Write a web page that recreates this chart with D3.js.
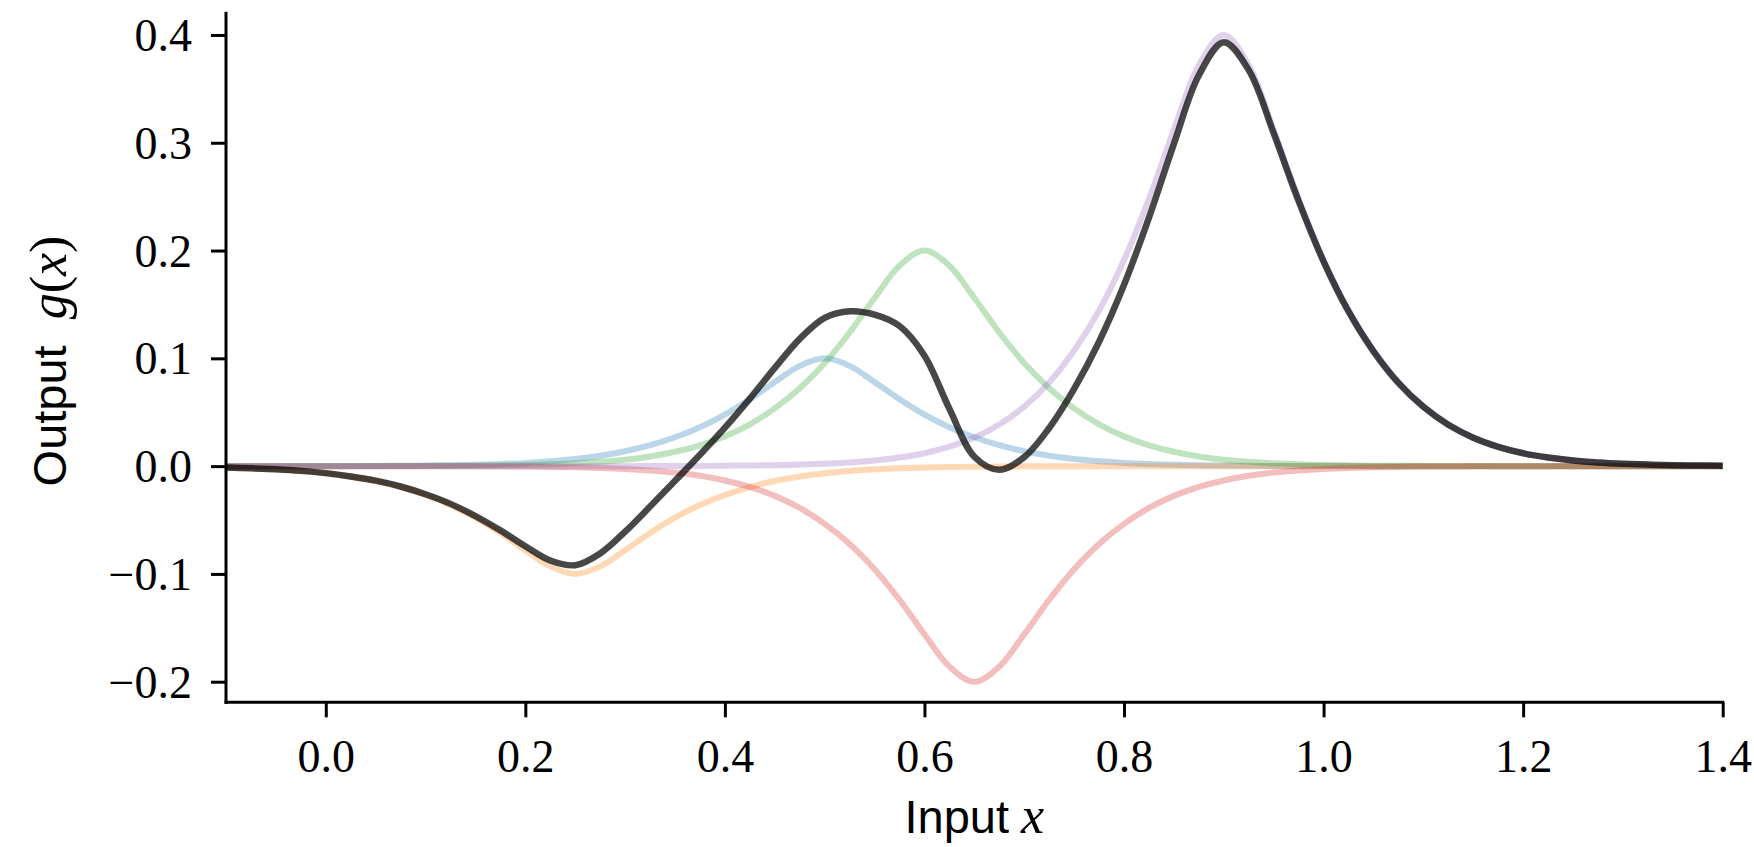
<!DOCTYPE html>
<html>
<head>
<meta charset="utf-8">
<script src="https://cdn.jsdelivr.net/npm/d3@7"></script>
<style>
  html, body { margin: 0; padding: 0; background: #ffffff; }
  svg { display: block; }
</style>
</head>
<body>
<svg id="chart" width="1754" height="847"></svg>
<script>
// ---- data ----
const xs = [-0.1,-0.075,-0.05,-0.025,0,0.025,0.05,0.075,0.1,0.125,0.15,0.175,0.2,0.225,0.25,0.275,0.3,0.325,0.35,0.375,0.4,0.425,0.45,0.475,0.5,0.525,0.55,0.575,0.6,0.625,0.65,0.675,0.7,0.725,0.75,0.775,0.8,0.825,0.85,0.875,0.9,0.925,0.95,0.975,1.0,1.025,1.05,1.075,1.1,1.125,1.15,1.175,1.2,1.225,1.25,1.275,1.3,1.325,1.35,1.375,1.4];

const blueVals = [0,0,0,0.0001,0.0001,0.0001,0.0002,0.0004,0.0006,0.0009,0.0013,0.002,0.003,0.0045,0.0066,0.0097,0.0138,0.0194,0.0268,0.0361,0.0478,0.062,0.078,0.093,0.1,0.093,0.078,0.062,0.0478,0.0361,0.0268,0.0194,0.0138,0.0097,0.0066,0.0045,0.003,0.002,0.0013,0.0009,0.0006,0.0004,0.0002,0.0001,0.0001,0.0001,0,0,0,0,0,0,0,0,0,0,0,0,0,0,0];

const orangeVals = [-0.0013,-0.002,-0.003,-0.0045,-0.0066,-0.0097,-0.0138,-0.0194,-0.0268,-0.0361,-0.0478,-0.062,-0.078,-0.093,-0.1,-0.093,-0.078,-0.062,-0.0478,-0.0361,-0.0268,-0.0194,-0.0138,-0.0097,-0.0066,-0.0045,-0.003,-0.002,-0.0013,-0.0009,-0.0006,-0.0004,-0.0002,-0.0001,-0.0001,-0.0001,0,0,0,0,0,0,0,0,0,0,0,0,0,0,0,0,0,0,0,0,0,0,0,0,0];

const greenVals = [0,0,0,0,0,0,0.0001,0.0001,0.0002,0.0003,0.0004,0.0007,0.0011,0.0017,0.0026,0.004,0.006,0.009,0.0133,0.0193,0.0276,0.0388,0.0536,0.0722,0.0956,0.124,0.156,0.186,0.2,0.186,0.156,0.124,0.0956,0.0722,0.0536,0.0388,0.0276,0.0193,0.0133,0.009,0.006,0.004,0.0026,0.0017,0.0011,0.0007,0.0004,0.0003,0.0002,0.0001,0.0001,0,0,0,0,0,0,0,0,0,0];

const redVals = [0,0,0,0,0,0,0,0,-0.0001,-0.0001,-0.0002,-0.0003,-0.0004,-0.0007,-0.0011,-0.0017,-0.0026,-0.004,-0.006,-0.009,-0.0133,-0.0193,-0.0276,-0.0388,-0.0536,-0.0722,-0.0956,-0.124,-0.156,-0.186,-0.2,-0.186,-0.156,-0.124,-0.0956,-0.0722,-0.0536,-0.0388,-0.0276,-0.0193,-0.0133,-0.009,-0.006,-0.004,-0.0026,-0.0017,-0.0011,-0.0007,-0.0004,-0.0003,-0.0002,-0.0001,-0.0001,0,0,0,0,0,0,0,0];

const purpleVals = [0,0,0,0,0,0,0,0,0,0,0,0,0,0,0,0,0,0.0001,0.0001,0.0002,0.0004,0.0006,0.0009,0.0014,0.0022,0.0034,0.0052,0.008,0.012,0.018,0.0265,0.0386,0.0552,0.0776,0.1072,0.1444,0.1912,0.248,0.312,0.372,0.4,0.372,0.312,0.248,0.1912,0.1444,0.1072,0.0776,0.0552,0.0386,0.0265,0.018,0.012,0.008,0.0052,0.0034,0.0022,0.0014,0.0009,0.0006,0.0004];

const totalVals = [-0.0013,-0.002,-0.003,-0.0044,-0.0065,-0.0096,-0.0135,-0.0189,-0.0261,-0.035,-0.0463,-0.0596,-0.0743,-0.0875,-0.0919,-0.081,-0.0608,-0.0375,-0.0136,0.0105,0.0357,0.0627,0.0911,0.1181,0.1376,0.1437,0.1406,0.13,0.1025,0.0532,0.0087,-0.0034,0.0084,0.0354,0.0717,0.1154,0.1682,0.2305,0.299,0.3626,0.3933,0.3674,0.3088,0.2458,0.1898,0.1435,0.1065,0.0772,0.055,0.0384,0.0264,0.0179,0.0119,0.008,0.0052,0.0034,0.0022,0.0014,0.0009,0.0006,0.0004];

const xTicks = [0.0, 0.2, 0.4, 0.6, 0.8, 1.0, 1.2, 1.4];
const yTicks = [-0.2, -0.1, 0.0, 0.1, 0.2, 0.3, 0.4];

const componentSeries = [
  { name: "blue",   values: blueVals,   color: "#1f77b4" },
  { name: "orange", values: orangeVals, color: "#ff7f0e" },
  { name: "green",  values: greenVals,  color: "#2ca02c" },
  { name: "red",    values: redVals,    color: "#d62728" },
  { name: "purple", values: purpleVals, color: "#9467bd" }
];

// ---- layout ----
const plot = { left: 226, right: 1722.7, top: 13.3, bottom: 702.3 };
const svg = d3.select("#chart");

const x = d3.scaleLinear().domain([-0.1, 1.4]).range([plot.left, plot.right]);
const y = d3.scaleLinear().domain([-0.2191, 0.4201]).range([plot.bottom, plot.top]);

const line = d3.line()
  .x((d, i) => x(xs[i]))
  .y(d => y(d))
  .curve(d3.curveCatmullRom.alpha(0.5));

const gLines = svg.append("g");
componentSeries.forEach(s => {
  gLines.append("path")
    .attr("d", line(s.values))
    .attr("fill", "none")
    .attr("stroke", s.color)
    .attr("stroke-opacity", 0.3)
    .attr("stroke-width", 6)
    .attr("stroke-linejoin", "round");
});
gLines.append("path")
  .attr("d", line(totalVals))
  .attr("fill", "none")
  .attr("stroke", "#000000")
  .attr("stroke-opacity", 0.72)
  .attr("stroke-width", 6.5)
  .attr("stroke-linejoin", "round");

// ---- axes ----
const fmt = v => {
  const s = d3.format(".1f")(Math.abs(v));
  return (v < -1e-9 ? "\u2212" : "") + s;
};

const xAxis = d3.axisBottom(x).tickValues(xTicks).tickSize(15).tickPadding(18).tickFormat(fmt);
const yAxis = d3.axisLeft(y).tickValues(yTicks).tickSize(15).tickPadding(19).tickFormat(fmt);

const gx = svg.append("g").attr("transform", `translate(0,${plot.bottom})`).call(xAxis);
const gy = svg.append("g").attr("transform", `translate(${plot.left},0)`).call(yAxis);

[gx, gy].forEach(g => {
  g.select(".domain").attr("stroke", "#000").attr("stroke-width", 3).attr("stroke-linecap", "square");
  g.selectAll(".tick line").attr("stroke", "#000").attr("stroke-width", 3);
  g.selectAll(".tick text")
    .attr("fill", "#000")
    .style("font-family", "'Liberation Serif', 'Times New Roman', serif")
    .style("font-size", "46px");
});
gx.select(".domain").attr("d", `M${plot.left},0H${plot.right}`);
gy.select(".domain").attr("d", `M0,${plot.top}V${plot.bottom}`);
gx.selectAll(".tick text").attr("dy", null).attr("y", 69.4);
gy.selectAll(".tick text").attr("dy", "0.34em");

// ---- axis labels ----
const sans = "'Liberation Sans', Arial, sans-serif";
const serif = "'Liberation Serif', 'Times New Roman', serif";

const xl = svg.append("text")
  .attr("x", (plot.left + plot.right) / 2)
  .attr("y", 833)
  .attr("text-anchor", "middle")
  .style("font-size", "47px")
  .attr("fill", "#000");
xl.append("tspan").style("font-family", sans).text("Input");
xl.append("tspan").attr("dx", 12).style("font-family", serif).style("font-style", "italic").style("font-size", "52px").text("x");

const yl = svg.append("text")
  .attr("transform", `translate(66,361) rotate(-90)`)
  .attr("text-anchor", "middle")
  .style("font-size", "47px")
  .attr("fill", "#000");
yl.append("tspan").style("font-family", sans).text("Output");
yl.append("tspan").attr("dx", 26).style("font-family", serif).style("font-style", "italic").style("font-size", "52px").text("g");
yl.append("tspan").style("font-family", serif).style("font-size", "52px").text("(");
yl.append("tspan").style("font-family", serif).style("font-style", "italic").style("font-size", "52px").text("x");
yl.append("tspan").style("font-family", serif).style("font-size", "52px").text(")");
</script>
</body>
</html>
